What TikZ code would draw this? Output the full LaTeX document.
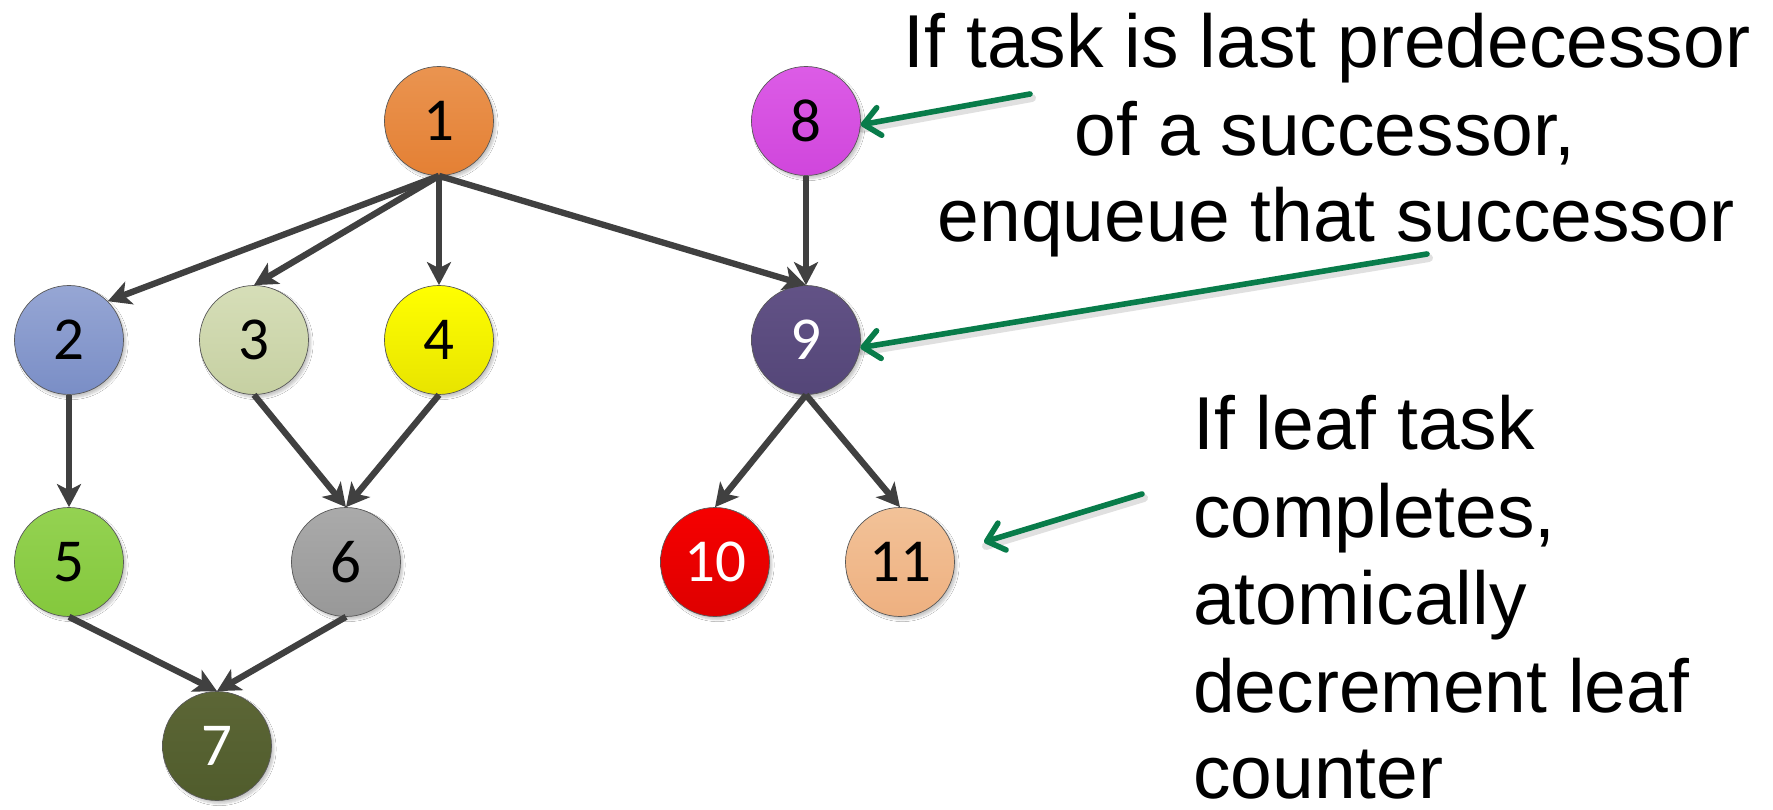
\documentclass[tikz,border=0pt]{standalone}
\usepackage{fontspec}
\setmainfont{Liberation Sans}
\newfontfamily\numfont{Carlito}
\usetikzlibrary{arrows.meta,shadows.blur}

% fill colours (top / bottom of each gradient)
\definecolor{edgegray}{RGB}{64,64,64}
\definecolor{notegreen}{RGB}{8,124,74}
\definecolor{oneT}{RGB}{234,148,80}   \definecolor{oneB}{RGB}{228,128,52}
\definecolor{twoT}{RGB}{150,166,212}  \definecolor{twoB}{RGB}{122,142,198}
\definecolor{threeT}{RGB}{214,222,184}\definecolor{threeB}{RGB}{198,208,162}
\definecolor{fourT}{RGB}{255,255,0}   \definecolor{fourB}{RGB}{232,228,0}
\definecolor{fiveT}{RGB}{148,210,82}  \definecolor{fiveB}{RGB}{132,200,60}
\definecolor{sixT}{RGB}{170,170,170}  \definecolor{sixB}{RGB}{152,152,152}
\definecolor{sevenT}{RGB}{92,102,54}  \definecolor{sevenB}{RGB}{80,92,44}
\definecolor{eightT}{RGB}{220,92,230} \definecolor{eightB}{RGB}{208,70,220}
\definecolor{nineT}{RGB}{98,82,134}   \definecolor{nineB}{RGB}{84,70,120}
\definecolor{tenT}{RGB}{246,0,0}      \definecolor{tenB}{RGB}{222,0,0}
\definecolor{elevenT}{RGB}{242,194,152}\definecolor{elevenB}{RGB}{238,176,128}

\begin{document}
\begin{tikzpicture}[x=1pt,y=-1pt,
  task/.style={circle, draw=black!65, line width=0.7pt, minimum size=109pt,
    inner sep=0pt, font=\numfont\fontsize{61}{61}\selectfont,
    blur shadow={shadow xshift=2.5pt, shadow yshift=-3pt,
      shadow blur steps=6, shadow opacity=22}},
  fillpair/.style 2 args={top color=#1, bottom color=#2},
  dep/.style={draw=edgegray, line width=6.3pt,
    -{Stealth[length=23pt,width=24pt,inset=6pt]}},
  note/.style={draw=notegreen, line width=5.6pt, line cap=round,
    -{Straight Barb[length=16pt,width=28pt,round]}},
  noteshadow/.style={draw=black, opacity=0.12, line width=8pt, line cap=round},
  notetext/.style={inner sep=0pt, font=\fontsize{75}{88}\selectfont}]

\fill[white] (0,0) rectangle (1773,810);
\useasboundingbox (0,0) rectangle (1773,810);

% task graph
\node[task, fillpair={oneT}{oneB}]       (n1)  at (439,121) {1};
\node[task, fillpair={eightT}{eightB}]   (n8)  at (806,121) {8};
\node[task, fillpair={twoT}{twoB}]       (n2)  at (69,340)  {2};
\node[task, fillpair={threeT}{threeB}]   (n3)  at (254,340) {3};
\node[task, fillpair={fourT}{fourB}]     (n4)  at (439,340) {4};
\node[task, fillpair={nineT}{nineB}, text=white] (n9) at (806,340) {9};
\node[task, fillpair={fiveT}{fiveB}]     (n5)  at (69,562)  {5};
\node[task, fillpair={sixT}{sixB}]       (n6)  at (346,562) {6};
\node[task, fillpair={tenT}{tenB}, text=white]   (n10) at (715,562) {10};
\node[task, fillpair={elevenT}{elevenB}] (n11) at (900,562) {11};
\node[task, fillpair={sevenT}{sevenB}, text=white] (n7) at (217,746) {7};

% dependencies
\draw[dep] (n1.south) -- (n2.north east);
\draw[dep] (n1.south) -- (n3.north);
\draw[dep] (n1.south) -- (n4.north);
\draw[dep] (n1.south) -- (n9.north);
\draw[dep] (n8.south) -- (n9.north);
\draw[dep] (n2.south) -- (n5.north);
\draw[dep] (n3.south) -- (n6.north);
\draw[dep] (n4.south) -- (n6.north);
\draw[dep] (n5.south) -- (n7.north);
\draw[dep] (n6.south) -- (n7.north);
\draw[dep] (n9.south) -- (n10.north);
\draw[dep] (n9.south) -- (n11.north);

% explanatory text
\node[notetext, anchor=base] (t1) at (1327,68)  {If task is last predecessor};
\node[notetext, anchor=base] (t2) at (1325,156) {of a successor,};
\node[notetext, anchor=base] (t3) at (1336,242) {enqueue that successor};

\node[notetext, anchor=base west] (b1) at (1193,449) {If leaf task};
\node[notetext, anchor=base west] (b2) at (1193,537) {completes,};
\node[notetext, anchor=base west] (b3) at (1193,624) {atomically};
\node[notetext, anchor=base west] (b4) at (1193,712) {decrement leaf};
\node[notetext, anchor=base west] (b5) at (1193,798) {counter};

% pointers from the text
\coordinate (pA) at (1030,94);
\coordinate (pB) at (1427,254);
\coordinate (pC) at (1142,494);
\coordinate (pCend) at (984,542);

\draw[noteshadow] ([shift={(2,4)}]pA) -- ([shift={(2,4)}]n8.-4);
\draw[noteshadow] ([shift={(2,4)}]pB) -- ([shift={(2,4)}]n9.-8);
\draw[noteshadow] ([shift={(2,4)}]pC) -- ([shift={(2,4)}]pCend);

\draw[note] (pA) -- (n8.-4);
\draw[note] (pB) -- (n9.-8);
\draw[note] (pC) -- (pCend);
\end{tikzpicture}
\end{document}
